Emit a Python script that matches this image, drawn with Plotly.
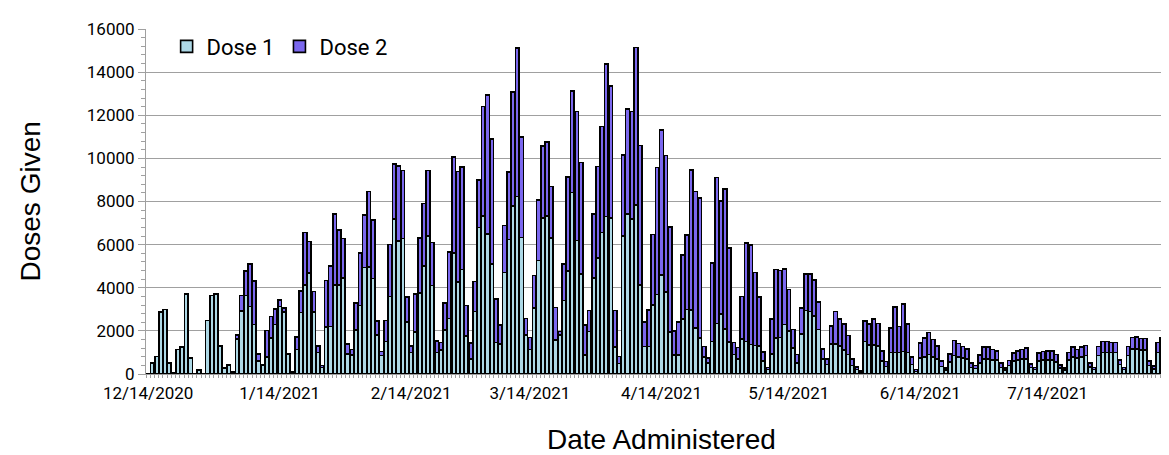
import plotly.graph_objects as go
import pandas as pd

# Daily doses, starting Monday 12/14/2020 (one value per day)
dose1 = [
    0, 510, 820, 2880, 2990, 520, 60,
    1130, 1250, 3710, 740, 0, 180, 0,
    2490, 3650, 3710, 1290, 280, 430, 80,
    1620, 2930, 3650, 3130, 2300, 600, 400,
    800, 1670, 2290, 3130, 2870, 930, 100,
    1130, 2850, 4130, 4680, 2880, 1000, 300,
    2190, 2200, 4140, 4140, 4450, 930, 880,
    2040, 3170, 4940, 4970, 4430, 1820, 850,
    1500, 3600, 7200, 6170, 6280, 2420, 1000,
    1950, 3750, 5000, 6400, 4100, 1000, 1100,
    2040, 2570, 5610, 4270, 4840, 1750, 700,
    2900, 6800, 7340, 6500, 5110, 1470, 1390,
    4710, 6230, 7800, 8230, 6330, 1820, 1130,
    3060, 5270, 7230, 7340, 6300, 1590, 1820,
    3410, 4790, 8420, 6190, 4650, 870, 1980,
    4450, 5380, 6570, 7310, 7230, 1250, 480,
    6410, 7430, 7180, 7850, 4140, 1280, 1280,
    3210, 3680, 4600, 3800, 1950, 870, 870,
    2540, 3000, 2980, 2130, 1670, 800, 500,
    1510, 2340, 2770, 2100, 1480, 900, 700,
    1620, 1510, 1360, 1330, 1300, 600, 200,
    930, 1670, 1700, 2290, 2000, 1200, 500,
    1850, 2940, 2900, 2700, 2060, 700, 450,
    1400, 1400, 1300, 1100, 900, 400, 200,
    100, 1500, 1350, 1350, 1300, 600, 350,
    1000, 1000, 1000, 1050, 1000, 450, 120,
    750, 800, 900, 800, 700, 350, 180,
    550, 850, 800, 750, 700, 300, 250,
    500, 700, 700, 650, 650, 300, 180,
    400, 600, 650, 700, 700, 300, 200,
    600, 650, 650, 650, 550, 280, 180,
    650, 800, 750, 800, 850, 330, 200,
    850, 1000, 1000, 1000, 1000, 450, 200,
    850, 1150, 1150, 1100, 1100, 400, 230,
    1000, 1100, 1050, 900, 420,
]

dose2 = [
    0, 0, 0, 0, 0, 0, 0,
    0, 0, 0, 0, 0, 0, 0,
    0, 0, 0, 0, 0, 0, 0,
    200, 720, 1130, 1970, 2000, 340, 50,
    1210, 990, 730, 310, 190, 0, 0,
    590, 1010, 2440, 1470, 950, 300, 100,
    2140, 2820, 3290, 2550, 1830, 460, 260,
    1240, 2440, 2430, 3500, 2720, 650, 200,
    990, 2400, 2530, 3480, 3150, 1160, 310,
    1770, 2550, 2910, 3040, 1990, 520, 370,
    1240, 3090, 4450, 5120, 4750, 1420, 740,
    1390, 2200, 5060, 6440, 5800, 2020, 870,
    2180, 3130, 5280, 6880, 4650, 760, 570,
    1510, 2810, 3350, 3410, 2400, 1500, 160,
    1690, 4340, 4710, 5980, 5160, 1390, 970,
    2980, 4240, 4910, 7070, 6130, 1700, 340,
    3740, 4850, 4990, 7290, 6460, 1130, 1690,
    3260, 5900, 6720, 6330, 4860, 1130, 1550,
    2990, 3440, 6490, 6340, 6490, 480, 250,
    3650, 6770, 5250, 6470, 4360, 570, 520,
    1980, 4560, 4630, 3370, 2270, 420, 110,
    1620, 3170, 3100, 2590, 1910, 860, 400,
    1210, 1690, 1730, 1670, 1280, 450, 250,
    840, 1500, 1250, 1230, 880, 300, 130,
    50, 950, 980, 1210, 1050, 480, 230,
    1130, 2100, 1210, 2210, 1330, 340, 80,
    690, 870, 1030, 800, 610, 240, 100,
    380, 700, 610, 530, 460, 210, 150,
    370, 550, 540, 480, 430, 210, 100,
    220, 370, 430, 430, 500, 160, 110,
    370, 400, 430, 430, 350, 150, 100,
    350, 440, 380, 440, 480, 180, 110,
    430, 510, 510, 470, 470, 210, 110,
    430, 550, 570, 540, 540, 190, 130,
    470, 570, 460, 460, 210,
]

tick_dates = ["2020-12-14", "2021-01-14", "2021-02-14", "2021-03-14",
              "2021-04-14", "2021-05-14", "2021-06-14", "2021-07-14"]
tick_labels = ["12/14/2020", "1/14/2021", "2/14/2021", "3/14/2021",
               "4/14/2021", "5/14/2021", "6/14/2021", "7/14/2021"]

dates = pd.date_range("2020-12-14", periods=len(dose1), freq="D")

AXIS_GRAY = "#A0A0A0"
X_TICK_FONT = dict(family="Roboto, sans-serif", size=17, color="black")
Y_TICK_FONT = dict(family="Roboto, sans-serif", size=17, color="black")
TITLE_FONT = dict(family="Liberation Sans, Arial, sans-serif", size=28, color="black")

fig = go.Figure()
fig.add_trace(go.Bar(
    x=dates, y=dose1, name="Dose 1",
    marker=dict(color="#ADD8E6", line=dict(color="black", width=1.6)),
))
fig.add_trace(go.Bar(
    x=dates, y=dose2, name="Dose 2",
    marker=dict(color="#7B68EE", line=dict(color="black", width=1.6)),
))

fig.update_layout(
    width=1169, height=455,
    margin=dict(l=138, r=0, t=21, b=89),
    paper_bgcolor="white", plot_bgcolor="white",
    barmode="stack", bargap=0.12,
    showlegend=True,
    legend=dict(
        orientation="h", x=0.02, y=1.01, xanchor="left", yanchor="top",
        font=dict(family="Roboto, sans-serif", size=22, color="black"),
        bgcolor="rgba(0,0,0,0)", itemwidth=30, traceorder="normal",
    ),
    xaxis=dict(
        type="date",
        range=["2020-12-13 12:00", "2021-08-13 12:00"],
        tickmode="array", tickvals=tick_dates, ticktext=tick_labels,
        tickfont=X_TICK_FONT, showgrid=False,
        showline=True, linecolor=AXIS_GRAY, linewidth=1,
        ticks="", ticklabelstandoff=4,
        minor=dict(ticks="outside", ticklen=3, tickcolor=AXIS_GRAY,
                   dtick=86400000, tick0="2020-12-13 12:00", showgrid=False),
    ),
    yaxis=dict(
        range=[0, 16000], dtick=2000, tick0=0, tickformat="d",
        tickfont=Y_TICK_FONT, showgrid=True, gridcolor=AXIS_GRAY, gridwidth=1,
        showline=True, linecolor=AXIS_GRAY, linewidth=1,
        ticks="outside", ticklen=7, tickcolor=AXIS_GRAY,
        minor=dict(ticks="outside", ticklen=4, tickcolor=AXIS_GRAY, dtick=400, showgrid=False),
        zeroline=False,
    ),
    yaxis2=dict(
        overlaying="y", side="left", range=[0, 16000], dtick=2000,
        showticklabels=False, showgrid=False, showline=False, zeroline=False,
        ticks="inside", ticklen=7, tickcolor=AXIS_GRAY,
        minor=dict(ticks="inside", ticklen=4, tickcolor=AXIS_GRAY, dtick=400),
    ),
    annotations=[
        dict(text="Date Administered", xref="paper", yref="paper",
             x=0.5, y=-0.19, xanchor="center", yanchor="middle",
             showarrow=False, font=TITLE_FONT),
        dict(text="Doses Given", xref="paper", yref="paper",
             x=-0.1125, y=0.5, xanchor="center", yanchor="middle",
             textangle=-90, showarrow=False, font=TITLE_FONT),
    ],
)

fig.write_html("out.html")
